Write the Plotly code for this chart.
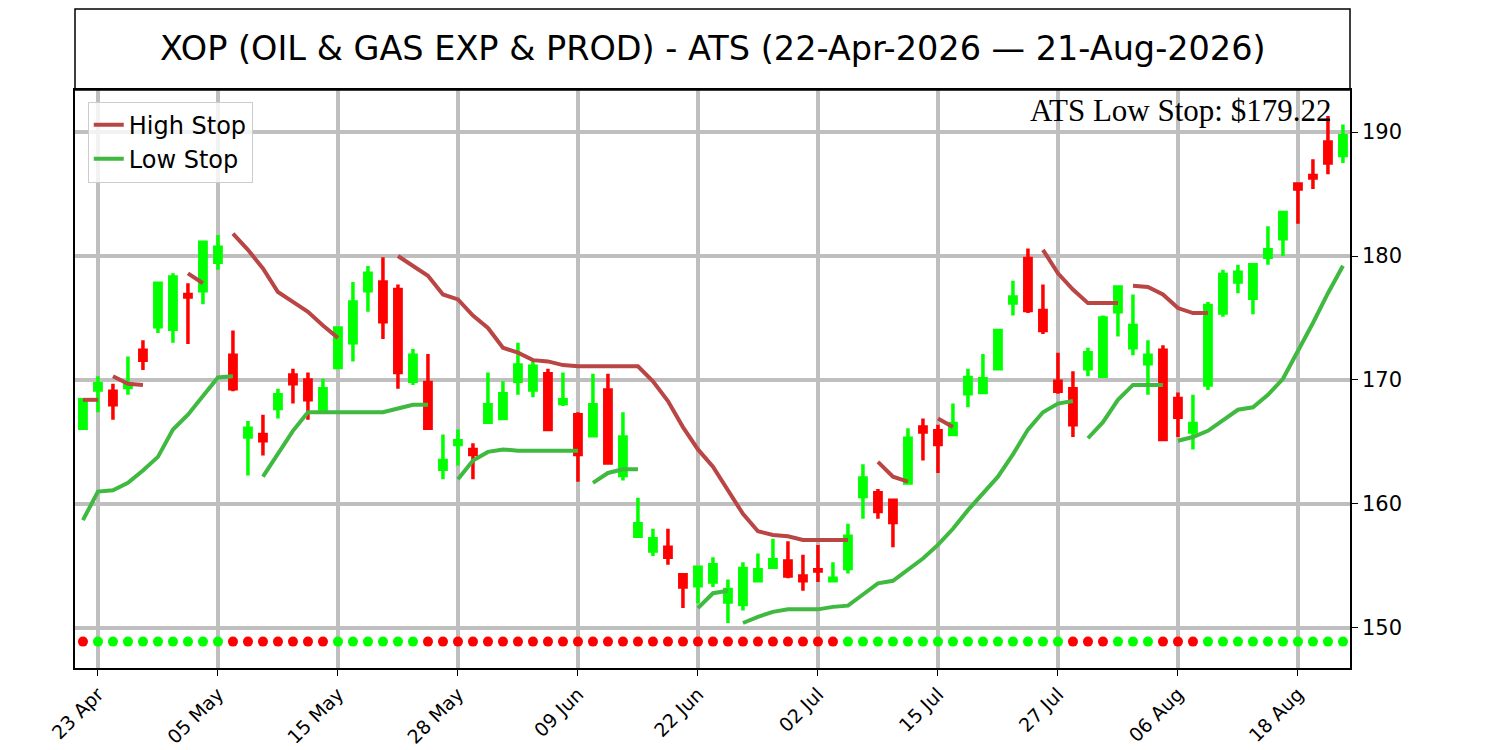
import pandas as pd
import plotly.graph_objects as go

# %%
# trading days shown on the chart
dates = [
    "2026-04-22", "2026-04-23", "2026-04-24", "2026-04-27", "2026-04-28", "2026-04-29", "2026-04-30",
    "2026-05-01", "2026-05-04", "2026-05-05", "2026-05-06", "2026-05-07", "2026-05-08", "2026-05-11",
    "2026-05-12", "2026-05-13", "2026-05-14", "2026-05-15", "2026-05-18", "2026-05-19", "2026-05-20",
    "2026-05-21", "2026-05-22", "2026-05-26", "2026-05-27", "2026-05-28", "2026-05-29", "2026-06-01",
    "2026-06-02", "2026-06-03", "2026-06-04", "2026-06-05", "2026-06-08", "2026-06-09", "2026-06-10",
    "2026-06-11", "2026-06-12", "2026-06-15", "2026-06-16", "2026-06-17", "2026-06-18", "2026-06-22",
    "2026-06-23", "2026-06-24", "2026-06-25", "2026-06-26", "2026-06-29", "2026-06-30", "2026-07-01",
    "2026-07-02", "2026-07-06", "2026-07-07", "2026-07-08", "2026-07-09", "2026-07-10", "2026-07-13",
    "2026-07-14", "2026-07-15", "2026-07-16", "2026-07-17", "2026-07-20", "2026-07-21", "2026-07-22",
    "2026-07-23", "2026-07-24", "2026-07-27", "2026-07-28", "2026-07-29", "2026-07-30", "2026-07-31",
    "2026-08-03", "2026-08-04", "2026-08-05", "2026-08-06", "2026-08-07", "2026-08-10", "2026-08-11",
    "2026-08-12", "2026-08-13", "2026-08-14", "2026-08-17", "2026-08-18", "2026-08-19", "2026-08-20",
    "2026-08-21",
]

opens = [
    166.1, 169.2, 169.1, 169.4, 172.4, 174.3, 174.1, 176.9, 177.2, 179.5,
    172.0, 165.4, 165.6, 167.7, 170.4, 170.0, 167.4, 171.0, 173.0, 177.2,
    177.9, 177.3, 169.9, 169.8, 162.8, 164.8, 164.4, 166.6, 166.9, 169.9,
    169.2, 170.5, 168.1, 167.2, 165.5, 169.2, 162.3, 157.4, 156.2, 156.5,
    154.3, 153.4, 153.7, 152.1, 151.9, 153.8, 154.9, 155.4, 154.2, 154.7,
    153.8, 154.8, 160.6, 160.9, 160.3, 161.7, 166.2, 165.9, 165.6, 168.9,
    169.0, 170.9, 176.2, 179.8, 175.6, 169.9, 169.3, 170.9, 170.3, 175.5,
    172.6, 171.3, 172.4, 168.5, 165.8, 169.6, 175.4, 177.9, 176.6, 179.9,
    181.4, 185.8, 186.5, 189.2, 188.1,
]
highs = [
    168.5, 170.3, 169.7, 171.9, 173.2, 177.9, 178.6, 177.8, 181.1, 181.7,
    174.0, 166.7, 167.2, 169.3, 170.9, 170.6, 170.1, 174.3, 177.9, 179.2,
    179.9, 177.7, 172.5, 172.1, 165.6, 166.0, 164.9, 170.6, 169.9, 173.0,
    171.7, 170.9, 170.6, 167.4, 170.5, 170.5, 167.4, 160.5, 158.0, 158.0,
    154.3, 155.0, 155.7, 153.9, 155.3, 156.0, 157.2, 157.0, 155.9, 156.7,
    155.3, 158.4, 163.2, 161.2, 160.4, 166.1, 166.9, 166.4, 168.1, 170.9,
    172.1, 174.0, 178.0, 180.6, 177.7, 172.2, 170.7, 172.6, 175.2, 177.5,
    176.9, 173.2, 172.8, 169.0, 168.8, 176.3, 178.9, 179.3, 179.4, 182.4,
    183.6, 185.9, 187.8, 191.3, 190.6,
]
lows = [
    166.1, 167.4, 166.8, 168.8, 170.8, 173.8, 173.0, 172.9, 176.1, 178.9,
    169.1, 162.3, 163.9, 166.9, 168.1, 166.8, 167.3, 170.9, 171.5, 175.5,
    173.3, 169.3, 169.6, 166.1, 162.0, 163.1, 162.0, 166.6, 166.9, 168.8,
    168.6, 166.0, 167.9, 161.8, 165.4, 163.3, 161.9, 157.4, 155.8, 155.1,
    151.6, 152.0, 153.3, 150.4, 151.4, 153.7, 154.9, 154.0, 153.0, 153.7,
    153.8, 154.4, 158.8, 158.8, 156.5, 161.6, 163.5, 162.5, 165.6, 167.8,
    168.9, 170.9, 175.2, 175.4, 173.7, 168.9, 165.4, 170.3, 170.2, 173.5,
    172.0, 168.8, 165.1, 165.4, 164.4, 169.2, 175.1, 177.0, 175.3, 179.3,
    180.0, 182.6, 185.4, 186.6, 187.5,
]
closes = [
    168.4, 169.7, 168.0, 169.7, 171.6, 177.8, 178.3, 176.7, 181.1, 180.7,
    169.3, 166.1, 165.1, 168.8, 169.7, 168.4, 169.3, 174.2, 176.3, 178.6,
    174.7, 170.6, 172.0, 166.1, 163.5, 165.1, 164.0, 168.0, 168.9, 171.2,
    171.1, 166.0, 168.4, 164.0, 168.0, 163.3, 165.4, 158.4, 157.2, 155.7,
    153.3, 154.9, 155.1, 153.1, 154.8, 154.7, 155.5, 154.2, 153.8, 154.6,
    154.0, 157.4, 162.1, 159.4, 158.5, 165.3, 165.8, 164.8, 166.5, 170.2,
    170.1, 174.0, 176.7, 175.6, 174.0, 169.1, 166.4, 172.2, 175.0, 177.5,
    174.4, 172.0, 165.2, 167.0, 166.5, 176.0, 178.5, 178.7, 179.3, 180.5,
    183.5, 185.4, 186.3, 187.5, 189.7,
]

# ATS trend per bar: 1 = up (green dot), -1 = down (red dot)
trend = [
    -1, 1, 1, 1, 1, 1, 1, 1, 1, 1,
    -1, -1, -1, -1, -1, -1, -1, 1, 1, 1,
    1, 1, 1, -1, -1, -1, -1, -1, -1, -1,
    -1, -1, -1, -1, -1, -1, -1, -1, -1, -1,
    -1, -1, -1, -1, -1, -1, -1, -1, -1, -1,
    -1, 1, 1, 1, 1, 1, 1, 1, 1, 1,
    1, 1, 1, 1, 1, 1, -1, -1, -1, 1,
    1, 1, -1, -1, -1, 1, 1, 1, 1, 1,
    1, 1, 1, 1, 1,
]

# stop lines, as (first bar index, values) segments
high_stop_segments = [
    (0, [168.4, 168.4]),
    (2, [170.3, 169.7, 169.6]),
    (7, [178.6, 177.8]),
    (10, [181.8, 180.5, 179.0, 177.1, 176.3, 175.5, 174.4, 173.4]),
    (21, [180.0, 179.2, 178.4, 176.9, 176.5, 175.2, 174.2, 172.6, 172.2, 171.6,
          171.5, 171.2, 171.1, 171.1, 171.1, 171.1, 171.1, 169.9, 168.3, 166.2,
          164.4, 163.0, 161.1, 159.2, 157.8, 157.5, 157.4, 157.1, 157.1, 157.1, 157.1]),
    (53, [163.4, 162.2, 161.8]),
    (57, [166.9, 166.2]),
    (64, [180.5, 178.6, 177.3, 176.2, 176.2, 176.2]),
    (70, [177.6, 177.5, 176.9, 175.8, 175.4, 175.4]),
]
low_stop_segments = [
    (0, [158.7, 161.0, 161.1, 161.7, 162.7, 163.8, 166.0, 167.2, 168.7, 170.2, 170.3]),
    (12, [162.2, 164.1, 165.9, 167.4, 167.4, 167.4, 167.4, 167.4, 167.4, 167.7, 168.0, 168.0]),
    (25, [162.0, 163.5, 164.2, 164.4, 164.3, 164.3, 164.3, 164.3, 164.3]),
    (34, [161.7, 162.5, 162.8, 162.8]),
    (41, [151.6, 152.8, 153.0]),
    (44, [150.4, 150.9, 151.3, 151.5, 151.5, 151.5, 151.7, 151.8, 152.7, 153.6,
          153.8, 154.7, 155.6, 156.7, 158.0, 159.5, 160.9, 162.2, 164.0, 166.0,
          167.4, 168.1, 168.3]),
    (67, [165.3, 166.6, 168.4, 169.6, 169.6, 169.6]),
    (73, [165.1, 165.4, 165.9, 166.8, 167.6, 167.8, 168.8, 170.1, 172.3, 174.6, 177.0, 179.22]),
]

title = "XOP (OIL & GAS EXP & PROD) - ATS (22-Apr-2026 \u2014 21-Aug-2026)"

# %%
UP = "#00ff00"
DOWN = "#ff0000"
SIGNAL_Y = 148.9


def segments_to_xy(segments):
    xs, ys = [], []
    for start, vals in segments:
        xs += list(range(start, start + len(vals))) + [None]
        ys += list(vals) + [None]
    return xs, ys


idx = list(range(len(dates)))
tick_idx = idx[1::8]
tick_text = list(pd.to_datetime(dates).strftime("%d %b")[1::8])

fig = go.Figure()

fig.add_trace(go.Candlestick(
    x=idx, open=opens, high=highs, low=lows, close=closes,
    increasing=dict(line=dict(color=UP, width=3.5), fillcolor=UP),
    decreasing=dict(line=dict(color=DOWN, width=3.5), fillcolor=DOWN),
    showlegend=False, hoverinfo="x+y",
))

hx, hy = segments_to_xy(high_stop_segments)
fig.add_trace(go.Scatter(x=hx, y=hy, mode="lines", name="High Stop",
                         line=dict(color="#b94545", width=4), connectgaps=False))
lx, ly = segments_to_xy(low_stop_segments)
fig.add_trace(go.Scatter(x=lx, y=ly, mode="lines", name="Low Stop",
                         line=dict(color="#3fb93f", width=4), connectgaps=False))

fig.add_trace(go.Scatter(
    x=idx, y=[SIGNAL_Y] * len(idx), mode="markers", showlegend=False,
    marker=dict(size=10, color=[UP if t > 0 else DOWN for t in trend], line=dict(width=0)),
))

last_low = low_stop_segments[-1][1][-1]
fig.add_annotation(
    text=f"ATS Low Stop: ${last_low:.2f}", xref="paper", yref="paper",
    x=0.987, y=0.964, xanchor="right", yanchor="middle", showarrow=False,
    font=dict(family="Liberation Serif", size=31, color="black"),
)

# title box above the plot
fig.add_shape(type="rect", xref="paper", yref="paper", x0=0, x1=1, y0=1, y1=1.140,
              line=dict(color="black", width=1.5))
fig.add_annotation(
    text=title, xref="paper", yref="paper", x=0.5, y=1.0715,
    xanchor="center", yanchor="middle", showarrow=False,
    font=dict(family="DejaVu Sans", size=33.5, color="black"),
)

fig.update_layout(
    width=1500, height=750,
    margin=dict(l=75, r=150, t=90, b=82, autoexpand=False),
    plot_bgcolor="white", paper_bgcolor="white",
    font=dict(family="DejaVu Sans", size=21, color="black"),
    boxgap=0.4,
    showlegend=True,
    legend=dict(x=0.01, y=0.98, xanchor="left", yanchor="top",
                bgcolor="rgba(255,255,255,0.8)", bordercolor="#cccccc", borderwidth=1,
                font=dict(size=24)),
)
fig.update_xaxes(
    range=[-0.53, 84.47], rangeslider_visible=False, automargin=False,
    tickmode="array", tickvals=tick_idx, ticktext=tick_text, tickangle=-45,
    tickfont=dict(size=19),
    showgrid=True, gridcolor="#bfbfbf", gridwidth=3.5,
    showline=True, linecolor="black", linewidth=1.5, mirror=True,
    ticks="outside", ticklen=6, tickcolor="black", zeroline=False,
)
fig.update_yaxes(
    range=[146.77, 193.39], side="right", automargin=False,
    tickvals=[150, 160, 170, 180, 190],
    showgrid=True, gridcolor="#bfbfbf", gridwidth=3.5,
    showline=True, linecolor="black", linewidth=1.5, mirror=True,
    ticks="outside", ticklen=6, tickcolor="black", zeroline=False,
)

# drop the page's default body margin so the figure sits at the window's corner
fig.write_html("out.html", config={"displayModeBar": False},
               post_script="document.body.style.margin='0';document.body.style.overflow='hidden';")
